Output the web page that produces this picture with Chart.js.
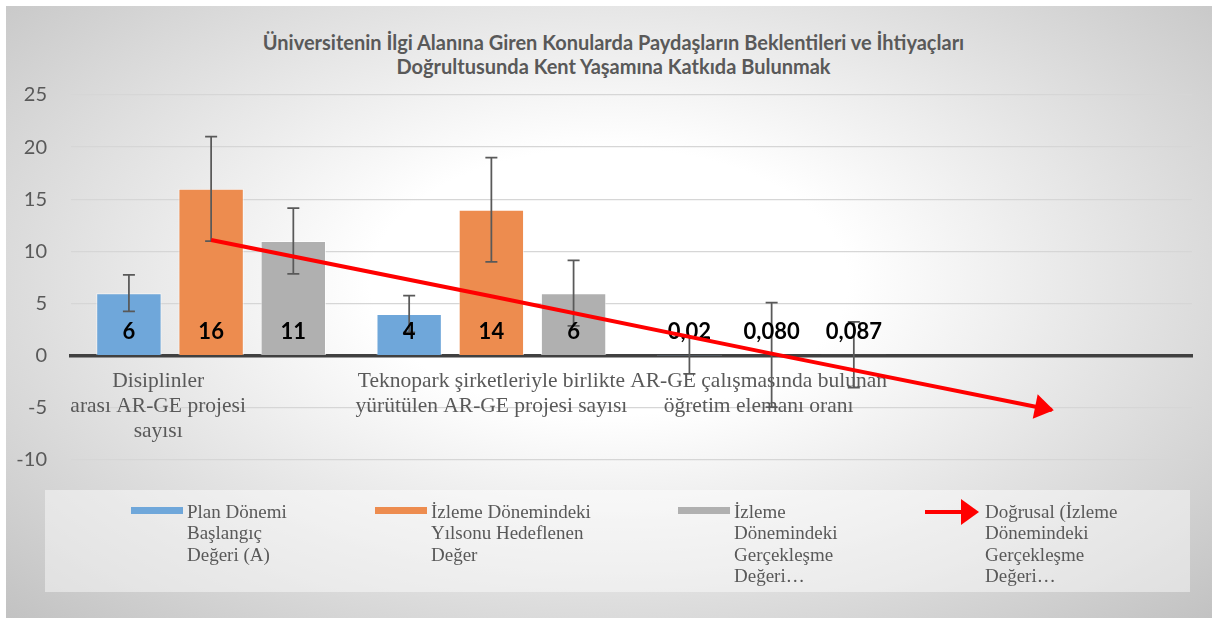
<!DOCTYPE html>
<html lang="tr">
<head>
    <meta charset="UTF-8">
    <title>Kent Yaşamına Katkı</title>
    <script src="https://cdn.jsdelivr.net/npm/chart.js"></script>
    <style>
        html, body { margin: 0; padding: 0; background: #ffffff; }

        .frame {
            position: absolute; left: 6px; top: 6px; width: 1206px; height: 612px;
            background: radial-gradient(ellipse farthest-corner at 50% 45%, #ffffff 28%, #c2c2c2 100%);
        }

        .chart-title {
            position: absolute; left: 0; top: 30px; width: 1227px;
            text-align: center; font-family: Lato, sans-serif; font-weight: bold;
            font-size: 20px; line-height: 24px; color: #595959;
        }

        .chart-wrap { position: absolute; left: 0; top: 0; width: 1218px; height: 621px; }

        .legend {
            position: absolute; left: 45px; top: 490px; width: 1145px; height: 102px;
            background: rgba(255, 255, 255, 0.45);
        }

        .legend-item {
            position: absolute; top: 11px;
            font-family: 'Liberation Serif', serif; font-size: 19px; line-height: 21.3px;
            color: #595959; white-space: nowrap;
        }

        .legend-item .swatch { position: absolute; left: 0; top: 6px; width: 52px; height: 7px; }
        .legend-item .text { margin-left: 56px; }
        .legend-item svg { position: absolute; left: 0; top: -3px; }
    </style>
</head>
<body>

    <div class="frame"></div>

    <div class="chart-title" id="chartTitle"></div>

    <div class="chart-wrap">
        <canvas id="kentChart" width="1218" height="621"></canvas>
    </div>

    <!-- Legend -->
    <div class="legend">
        <div class="legend-item" style="left: 86px;">
            <span class="swatch" style="background: #6fa7da;"></span>
            <div class="text">Plan Dönemi<br>Başlangıç<br>Değeri (A)</div>
        </div>
        <div class="legend-item" style="left: 330px;">
            <span class="swatch" style="background: #ed8c4f;"></span>
            <div class="text">İzleme Dönemindeki<br>Yılsonu Hedeflenen<br>Değer</div>
        </div>
        <div class="legend-item" style="left: 633px;">
            <span class="swatch" style="background: #b0b0b0;"></span>
            <div class="text">İzleme<br>Dönemindeki<br>Gerçekleşme<br>Değeri…</div>
        </div>
        <div class="legend-item" style="left: 880px;">
            <svg width="56" height="28">
                <line x1="0" y1="14" x2="40" y2="14" stroke="#ff0000" stroke-width="4"></line>
                <polygon points="36,1 54,14 36,27" fill="#ff0000"></polygon>
            </svg>
            <div class="text" style="margin-left: 60px;">Doğrusal (İzleme<br>Dönemindeki<br>Gerçekleşme<br>Değeri…</div>
        </div>
    </div>

    <script>
        // Categories (wrapped the same way as on the axis)
        const categories = [
            ['Disiplinler', 'arası AR-GE projesi', 'sayısı'],
            ['Teknopark şirketleriyle birlikte', 'yürütülen AR-GE projesi sayısı'],
            ['AR-GE çalışmasında bulunan', 'öğretim elemanı oranı'],
            ''
        ];

        // Series values
        const planValues = [6, 4, 0.02, null];
        const targetValues = [16, 14, 0.080, null];
        const actualValues = [11, 6, 0.087, null];

        // Value labels as printed on the bars
        const planLabels = ['6', '4', '0,02'];
        const targetLabels = ['16', '14', '0,080'];
        const actualLabels = ['11', '6', '0,087'];

        // Error bar amounts (+/-)
        const planError = [1.76, 1.76, 1.76];
        const targetError = [5, 5, 5];
        const actualError = [3.15, 3.15, 3.15];

        const trendValues = [11.1, 5.7, 0.2, -5.2];

        const titleLines = [
            'Üniversitenin İlgi Alanına Giren Konularda Paydaşların Beklentileri ve İhtiyaçları',
            'Doğrultusunda Kent Yaşamına Katkıda Bulunmak'
        ];

        // excel centres the wrapped category text a bit left of the tick
        const catLabelShift = [-53, 0, -13, 0];

        const titleEl = document.getElementById('chartTitle');
        titleLines.forEach(t => {
            const d = document.createElement('div');
            d.textContent = t;
            titleEl.appendChild(d);
        });

        const barSeries = [
            { values: planValues, labels: planLabels, error: planError },
            { values: targetValues, labels: targetLabels, error: targetError },
            { values: actualValues, labels: actualLabels, error: actualError }
        ];

        // error bars, value labels and category text go under the trend line, arrow head on top
        const extras = {
            id: 'extras',
            beforeDatasetDraw(chart, args) {
                if (args.index !== 3) return;
                const ctx = chart.ctx;
                const x = chart.scales.x;
                const y = chart.scales.y;
                const zero = y.getPixelForValue(0);
                ctx.save();

                // category labels under the zero line
                ctx.fillStyle = '#595959';
                ctx.font = '21.5px "Liberation Serif"';
                ctx.textAlign = 'center';
                ctx.textBaseline = 'middle';
                categories.forEach((cat, i) => {
                    const lines = Array.isArray(cat) ? cat : [cat];
                    const cx = x.getPixelForTick(i) + catLabelShift[i];
                    lines.forEach((line, k) => ctx.fillText(line, cx, zero + 26 + k * 25));
                });

                ctx.strokeStyle = '#595959';
                ctx.lineWidth = 1.75;
                barSeries.forEach((s, i) => {
                    chart.getDatasetMeta(i).data.forEach((bar, j) => {
                        const v = s.values[j];
                        if (v === null || v === undefined) return;
                        const top = y.getPixelForValue(v + s.error[j]);
                        const bot = y.getPixelForValue(v - s.error[j]);
                        ctx.beginPath();
                        ctx.moveTo(bar.x, top); ctx.lineTo(bar.x, bot);
                        ctx.moveTo(bar.x - 6, top); ctx.lineTo(bar.x + 6, top);
                        ctx.moveTo(bar.x - 6, bot); ctx.lineTo(bar.x + 6, bot);
                        ctx.stroke();
                    });
                });

                ctx.fillStyle = '#000000';
                ctx.font = 'bold 22px Lato';
                barSeries.forEach((s, i) => {
                    chart.getDatasetMeta(i).data.forEach((bar, j) => {
                        if (s.labels[j] === undefined) return;
                        ctx.fillText(s.labels[j], bar.x, zero - 24);
                    });
                });
                ctx.restore();
            },
            afterDatasetsDraw(chart) {
                const pts = chart.getDatasetMeta(3).data;
                const p = pts[pts.length - 1];
                const q = pts[pts.length - 2];
                const a = Math.atan2(p.y - q.y, p.x - q.x);
                const ctx = chart.ctx;
                ctx.save();
                ctx.translate(p.x, p.y);
                ctx.rotate(a);
                ctx.fillStyle = '#ff0000';
                ctx.beginPath();
                ctx.moveTo(2, 0);
                ctx.lineTo(-17, -12.5);
                ctx.lineTo(-17, 12.5);
                ctx.closePath();
                ctx.fill();
                ctx.restore();
            }
        };

        var ctx = document.getElementById('kentChart').getContext('2d');
        var kentChart = new Chart(ctx, {
            type: 'bar',
            data: {
                labels: categories,
                datasets: [{
                    label: 'Plan Dönemi Başlangıç Değeri (A)',
                    data: planValues,
                    backgroundColor: '#6fa7da',
                    borderColor: 'rgba(255, 255, 255, 0.6)',
                    borderWidth: 1,
                    order: 2
                }, {
                    label: 'İzleme Dönemindeki Yılsonu Hedeflenen Değer',
                    data: targetValues,
                    backgroundColor: '#ed8c4f',
                    borderColor: 'rgba(255, 255, 255, 0.6)',
                    borderWidth: 1,
                    order: 2
                }, {
                    label: 'İzleme Dönemindeki Gerçekleşme Değeri',
                    data: actualValues,
                    backgroundColor: '#b0b0b0',
                    borderColor: 'rgba(255, 255, 255, 0.6)',
                    borderWidth: 1,
                    order: 2
                }, {
                    type: 'line',
                    label: 'Doğrusal (İzleme Dönemindeki Gerçekleşme Değeri)',
                    data: trendValues,
                    borderColor: '#ff0000',
                    borderWidth: 4,
                    pointRadius: 0,
                    fill: false,
                    tension: 0,
                    order: 1
                }]
            },
            options: {
                responsive: false,
                animation: false,
                categoryPercentage: 0.88,
                barPercentage: 0.795,
                layout: {
                    padding: { left: 11, right: 26, top: 95, bottom: 161 }
                },
                plugins: {
                    legend: { display: false },
                    tooltip: { enabled: false },
                    title: { display: false }
                },
                scales: {
                    x: {
                        position: { y: 0 },
                        z: 1,
                        grid: { display: false },
                        border: { display: true, color: '#404040', width: 3.5 },
                        ticks: { display: false }
                    },
                    y: {
                        min: -10,
                        max: 25,
                        afterFit: function (scale) { scale.width = 60; },
                        grid: {
                            color: c => c.tick && c.tick.value === 0 ? 'rgba(0,0,0,0)' : '#d6d6d6',
                            lineWidth: 1.3,
                            drawTicks: false
                        },
                        border: { display: false },
                        ticks: {
                            stepSize: 5,
                            color: '#595959',
                            font: { family: 'Lato', size: 20 },
                            padding: 24
                        }
                    }
                }
            },
            plugins: [extras]
        });
    </script>

</body>
</html>
